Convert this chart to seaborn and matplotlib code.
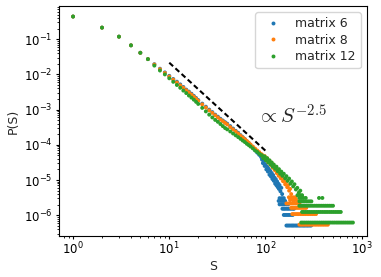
import numpy as np
import pandas as pd
import matplotlib.pyplot as plt
import seaborn as sns
from matplotlib.ticker import NullFormatter

# Avalanche size distribution P(S)
s_head = [1, 2, 3, 4, 5, 6, 7, 8, 9, 10, 11, 12, 13, 14, 15, 16, 17, 18, 19, 20,
          22, 24, 26, 28, 30, 32, 34, 36, 38, 40, 43, 46, 49, 52, 55, 58, 61, 64,
          67, 70, 74, 78, 82, 86, 90]

p6_head = [0.44, 0.213, 0.118, 0.067, 0.0411, 0.0272, 0.0195, 0.0145, 0.0114, 0.0091,
           0.0074, 0.0062, 0.0052, 0.0044, 0.0037, 0.00325, 0.00283, 0.00246, 0.00214, 0.00187,
           0.00148, 0.00121, 0.00100, 0.00085, 0.00072, 0.00063, 0.00055, 0.00049, 0.00044, 0.00040,
           0.00034, 0.00029, 0.00025, 0.00022, 0.000188, 0.000165, 0.000146, 0.000125, 0.000110, 0.000096,
           8.2e-5, 7.0e-5, 6.0e-5, 5.2e-5, 4.5e-5]
p8_head = [0.44, 0.213, 0.118, 0.067, 0.0411, 0.0272, 0.0191, 0.0141, 0.0110, 0.0087,
           0.0071, 0.0059, 0.0049, 0.0042, 0.00355, 0.00309, 0.00269, 0.00234, 0.00204, 0.00178,
           0.00141, 0.00115, 0.00095, 0.00081, 0.00069, 0.00060, 0.00052, 0.00047, 0.00042, 0.00038,
           0.00032, 0.000275, 0.00024, 0.00021, 0.000182, 0.000162, 0.000145, 0.000129, 0.000115, 0.000102,
           8.9e-5, 7.8e-5, 6.9e-5, 6.2e-5, 5.5e-5]
p12_head = [0.44, 0.213, 0.118, 0.067, 0.0411, 0.0272, 0.0178, 0.0129, 0.0100, 0.00776,
            0.00617, 0.00501, 0.00417, 0.00347, 0.00295, 0.00251, 0.00219, 0.00191, 0.00166, 0.00145,
            0.00112, 0.00089, 0.00072, 0.00060, 0.00051, 0.00045, 0.00039, 0.00034, 0.00030, 0.000275,
            0.00024, 0.00021, 0.000186, 0.000166, 0.000148, 0.000132, 0.000120, 0.000107, 9.8e-5, 8.9e-5,
            7.9e-5, 6.9e-5, 6.3e-5, 5.6e-5, 5.1e-5]

# noisy tails, ending in rows of a few counts (one row per count level)
s6_tail = [92, 94, 96, 98, 100, 102, 104, 106, 108, 110, 112, 114, 116, 118, 120, 122, 124, 126,
           128, 130, 132, 134, 136, 138, 140, 143, 146, 149,
           140, 148, 155,
           137, 145, 152, 160,
           140, 146, 152, 158, 165, 172,
           150, 155, 160, 166, 172, 178, 185, 192, 198,
           155, 160, 166, 172, 178, 185, 192,
           165, 170, 176, 182, 188, 194, 200, 207, 214, 221, 228, 236, 244, 252, 260, 269, 278,
           288, 298]
p6_tail = [3.80e-5, 3.02e-5, 3.39e-5, 2.51e-5, 2.82e-5, 2.00e-5, 2.40e-5, 1.74e-5, 2.09e-5, 1.41e-5,
           1.82e-5, 1.26e-5, 1.58e-5, 1.07e-5, 1.38e-5, 9.5e-6, 1.17e-5, 7.9e-6, 1.05e-5, 7.1e-6,
           9.1e-6, 6.3e-6, 7.9e-6, 5.6e-6, 7.1e-6, 4.8e-6, 6.0e-6, 4.0e-6,
           3.06e-6, 3.06e-6, 3.06e-6,
           2.55e-6, 2.55e-6, 2.55e-6, 2.55e-6,
           2.04e-6, 2.04e-6, 2.04e-6, 2.04e-6, 2.04e-6, 2.04e-6,
           1.53e-6, 1.53e-6, 1.53e-6, 1.53e-6, 1.53e-6, 1.53e-6, 1.53e-6, 1.53e-6, 1.53e-6,
           1.02e-6, 1.02e-6, 1.02e-6, 1.02e-6, 1.02e-6, 1.02e-6, 1.02e-6,
           5.1e-7, 5.1e-7, 5.1e-7, 5.1e-7, 5.1e-7, 5.1e-7, 5.1e-7, 5.1e-7, 5.1e-7, 5.1e-7, 5.1e-7,
           5.1e-7, 5.1e-7, 5.1e-7, 5.1e-7, 5.1e-7, 5.1e-7, 5.1e-7, 5.1e-7]

s8_tail = [92, 95, 98, 101, 104, 107, 110, 113, 116, 119, 122, 125, 128, 131, 134, 137, 140, 144,
           148, 152, 156, 160, 164, 168, 172, 176, 180, 185,
           175, 185, 195, 205,
           180, 192, 200, 210,
           165, 172, 180, 188, 196, 205, 214, 225,
           185, 192, 200, 208, 216, 225, 235, 245, 255, 265,
           190, 197, 205, 213, 221, 230, 240, 250, 260, 271, 282, 294, 306, 320, 335,
           225, 234, 243, 253, 263, 274, 285, 297, 309, 322, 335, 349, 363, 378, 394, 410, 427, 445]
p8_tail = [5.25e-5, 4.47e-5, 4.79e-5, 3.80e-5, 4.17e-5, 3.16e-5, 3.55e-5, 2.69e-5, 3.02e-5, 2.24e-5,
           2.51e-5, 1.91e-5, 2.14e-5, 1.58e-5, 1.82e-5, 1.32e-5, 1.51e-5, 1.12e-5, 1.26e-5, 9.3e-6,
           1.05e-5, 7.6e-6, 8.7e-6, 6.3e-6, 7.1e-6, 5.0e-6, 5.6e-6, 4.0e-6,
           3.24e-6, 3.24e-6, 3.24e-6, 3.24e-6,
           2.7e-6, 2.7e-6, 2.7e-6, 2.7e-6,
           2.16e-6, 2.16e-6, 2.16e-6, 2.16e-6, 2.16e-6, 2.16e-6, 2.16e-6, 2.16e-6,
           1.62e-6, 1.62e-6, 1.62e-6, 1.62e-6, 1.62e-6, 1.62e-6, 1.62e-6, 1.62e-6, 1.62e-6, 1.62e-6,
           1.08e-6, 1.08e-6, 1.08e-6, 1.08e-6, 1.08e-6, 1.08e-6, 1.08e-6, 1.08e-6, 1.08e-6, 1.08e-6,
           1.08e-6, 1.08e-6, 1.08e-6, 1.08e-6, 1.08e-6,
           5.4e-7, 5.4e-7, 5.4e-7, 5.4e-7, 5.4e-7, 5.4e-7, 5.4e-7, 5.4e-7, 5.4e-7, 5.4e-7, 5.4e-7,
           5.4e-7, 5.4e-7, 5.4e-7, 5.4e-7, 5.4e-7, 5.4e-7, 5.4e-7]

s12_tail = [92, 95, 98, 101, 104, 107, 110, 113, 116, 119, 122, 126, 130, 134, 138, 142, 146, 150,
            155, 160, 165, 170, 176, 182, 188, 194, 200, 207, 214, 222, 230,
            215, 228, 240,
            225, 236, 248, 262, 360, 390,
            225, 234, 244, 254, 265, 276, 288, 300,
            225, 235, 246, 257, 269, 281, 294, 308, 322, 337, 352, 368, 385, 403, 421, 440, 460, 481, 503,
            240, 250, 261, 273, 285, 298, 312, 326, 341, 356, 372, 389, 407, 425, 444, 465, 486, 508,
            531, 555, 580, 606,
            235, 245, 256, 268, 280, 293, 306, 320, 334, 349, 365, 382, 399, 417, 436, 456, 476, 498,
            520, 544, 568, 594, 621, 649, 678, 709, 741, 775, 810]
p12_tail = [5.0e-5, 4.17e-5, 4.68e-5, 3.63e-5, 4.17e-5, 3.16e-5, 3.63e-5, 2.75e-5, 3.16e-5, 2.40e-5,
            2.75e-5, 2.09e-5, 2.40e-5, 1.78e-5, 2.04e-5, 1.51e-5, 1.74e-5, 1.32e-5, 1.51e-5, 1.12e-5,
            1.29e-5, 9.5e-6, 1.10e-5, 7.9e-6, 9.1e-6, 6.6e-6, 7.6e-6, 5.4e-6, 6.0e-6, 4.4e-6, 5.0e-6,
            3.72e-6, 3.72e-6, 3.72e-6,
            3.1e-6, 3.1e-6, 3.1e-6, 3.1e-6, 3.1e-6, 3.1e-6,
            2.48e-6, 2.48e-6, 2.48e-6, 2.48e-6, 2.48e-6, 2.48e-6, 2.48e-6, 2.48e-6,
            1.86e-6, 1.86e-6, 1.86e-6, 1.86e-6, 1.86e-6, 1.86e-6, 1.86e-6, 1.86e-6, 1.86e-6, 1.86e-6,
            1.86e-6, 1.86e-6, 1.86e-6, 1.86e-6, 1.86e-6, 1.86e-6, 1.86e-6, 1.86e-6, 1.86e-6,
            1.24e-6, 1.24e-6, 1.24e-6, 1.24e-6, 1.24e-6, 1.24e-6, 1.24e-6, 1.24e-6, 1.24e-6, 1.24e-6,
            1.24e-6, 1.24e-6, 1.24e-6, 1.24e-6, 1.24e-6, 1.24e-6, 1.24e-6, 1.24e-6, 1.24e-6, 1.24e-6,
            1.24e-6, 1.24e-6,
            6.2e-7, 6.2e-7, 6.2e-7, 6.2e-7, 6.2e-7, 6.2e-7, 6.2e-7, 6.2e-7, 6.2e-7, 6.2e-7, 6.2e-7,
            6.2e-7, 6.2e-7, 6.2e-7, 6.2e-7, 6.2e-7, 6.2e-7, 6.2e-7, 6.2e-7, 6.2e-7, 6.2e-7, 6.2e-7,
            6.2e-7, 6.2e-7, 6.2e-7, 6.2e-7, 6.2e-7, 6.2e-7, 6.2e-7]

labels = ['matrix 6', 'matrix 8', 'matrix 12']

# guide line  P ~ S^-2.5
guide_s = np.array([10, 100])
guide_amp = 6.8
guide_exp = -2.5

frames = []
for lab, s_t, p_h, p_t in zip(labels, [s6_tail, s8_tail, s12_tail],
                              [p6_head, p8_head, p12_head], [p6_tail, p8_tail, p12_tail]):
    assert len(s_t) == len(p_t) and len(p_h) == len(s_head)
    frames.append(pd.DataFrame({'S': s_head + s_t, 'P': p_h + p_t, 'matrix': lab}))
df = pd.concat(frames, ignore_index=True)

sns.set_style('ticks')
plt.rcParams['font.family'] = ['DejaVu Sans']
plt.rcParams.update({
    'axes.edgecolor': 'black',
    'axes.linewidth': 0.8,
    'xtick.color': 'black',
    'ytick.color': 'black',
    'xtick.major.size': 2.5,
    'ytick.major.size': 2.5,
    'xtick.minor.size': 1.5,
    'ytick.minor.size': 1.5,
    'xtick.major.pad': 0.8,
    'ytick.major.pad': 2,
    'xtick.minor.visible': True,
})

fig, ax = plt.subplots(figsize=(3.81, 2.77), dpi=100)
fig.subplots_adjust(left=0.155, right=0.963, bottom=0.148, top=0.978)
ax.set_xscale('log')
ax.set_yscale('log')

palette = sns.color_palette('tab10', 3)
sns.scatterplot(data=df, x='S', y='P', hue='matrix', palette=palette, s=8,
                linewidth=0, ax=ax)
ax.plot(guide_s, guide_amp * guide_s ** guide_exp, color='black', ls='--',
        dashes=(2.5, 1.5), lw=1.5)
ax.text(0.643, 0.525, r'$\propto S^{-2.5}$', transform=ax.transAxes, fontsize=15,
        math_fontfamily='cm', va='center', ha='left')

ax.xaxis.set_minor_formatter(NullFormatter())
ax.yaxis.set_minor_formatter(NullFormatter())
ax.set_xlabel('S', fontsize=9, labelpad=2)
ax.set_ylabel('P(S)', fontsize=9, labelpad=3)
ax.tick_params(labelsize=8.5)
sns.move_legend(ax, 'upper right', title=None, fontsize=9, labelspacing=0.28)

fig.savefig('out.png', dpi=100)
